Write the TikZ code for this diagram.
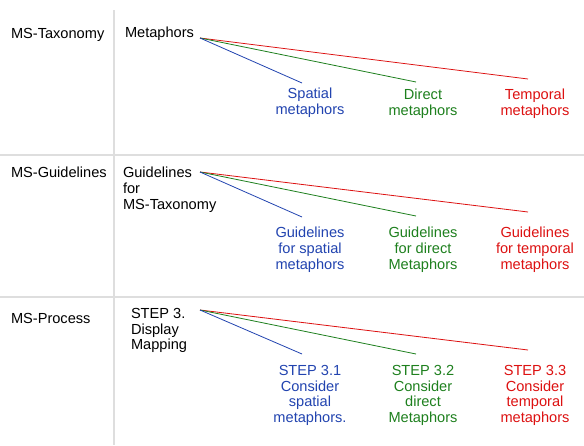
\documentclass[tikz,border=0pt]{standalone}
\usepackage{fontspec}
\setmainfont{Liberation Sans}
\definecolor{msblue}{RGB}{34,68,176}
\definecolor{msgreen}{RGB}{30,128,30}
\definecolor{msred}{RGB}{221,17,17}
\definecolor{gridgray}{RGB}{222,222,222}
\begin{document}
\begin{tikzpicture}[x=1pt,y=-1pt,
  every node/.style={inner sep=0pt,outer sep=0pt,font=\fontsize{14.6}{15.8}\selectfont},
  rowlabel/.style={anchor=base west},
  parentlabel/.style={anchor=north west,align=left},
  kid/.style={anchor=north,align=center},
  gridline/.style={draw=gridgray,line width=1.6pt},
  branch/.style={line width=0.8pt}]
\useasboundingbox (0,0) rectangle (584,445);
\fill[white] (0,0) rectangle (584,445);

% table grid
\draw[gridline] (114,10) -- (114,445);
\draw[gridline] (0,155) -- (584,155);
\draw[gridline] (0,297) -- (584,297);

% row 1: taxonomy
\node[rowlabel] (r1) at (11,38) {MS-Taxonomy};
\node[parentlabel] (p1) at (125,27) {Metaphors};
\coordinate (o1) at (200,38);
\coordinate (b1) at (302,83);
\coordinate (g1) at (416,82);
\coordinate (e1) at (528,79);
\node[kid,text=msblue] (k1a) at (310,88) {Spatial\\metaphors};
\node[kid,text=msgreen] (k1b) at (423,89) {Direct\\metaphors};
\node[kid,text=msred] (k1c) at (535,89) {Temporal\\metaphors};
\draw[branch,msred] (o1) -- (e1);
\draw[branch,msgreen] (o1) -- (g1);
\draw[branch,msblue] (o1) -- (b1);

% row 2: guidelines
\node[rowlabel] (r2) at (11,177) {MS-Guidelines};
\node[parentlabel] (p2) at (123,167) {Guidelines\\for\\MS-Taxonomy};
\coordinate (o2) at (200,172);
\coordinate (b2) at (302,217);
\coordinate (g2) at (416,216);
\coordinate (e2) at (528,212);
\node[kid,text=msblue] (k2a) at (310,227) {Guidelines\\for spatial\\metaphors};
\node[kid,text=msgreen] (k2b) at (423,227) {Guidelines\\for direct\\Metaphors};
\node[kid,text=msred] (k2c) at (535,227) {Guidelines\\for temporal\\metaphors};
\draw[branch,msred] (o2) -- (e2);
\draw[branch,msgreen] (o2) -- (g2);
\draw[branch,msblue] (o2) -- (b2);

% row 3: process
\node[rowlabel] (r3) at (11,323) {MS-Process};
\node[parentlabel] (p3) at (131,308) {STEP 3.\\Display\\Mapping};
\coordinate (o3) at (200,310);
\coordinate (b3) at (302,354);
\coordinate (g3) at (416,354);
\coordinate (e3) at (528,350);
\node[kid,text=msblue] (k3a) at (310,365) {STEP 3.1\\Consider\\spatial\\metaphors.};
\node[kid,text=msgreen] (k3b) at (423,365) {STEP 3.2\\Consider\\direct\\Metaphors};
\node[kid,text=msred] (k3c) at (535,365) {STEP 3.3\\Consider\\temporal\\metaphors};
\draw[branch,msred] (o3) -- (e3);
\draw[branch,msgreen] (o3) -- (g3);
\draw[branch,msblue] (o3) -- (b3);
\end{tikzpicture}
\end{document}
